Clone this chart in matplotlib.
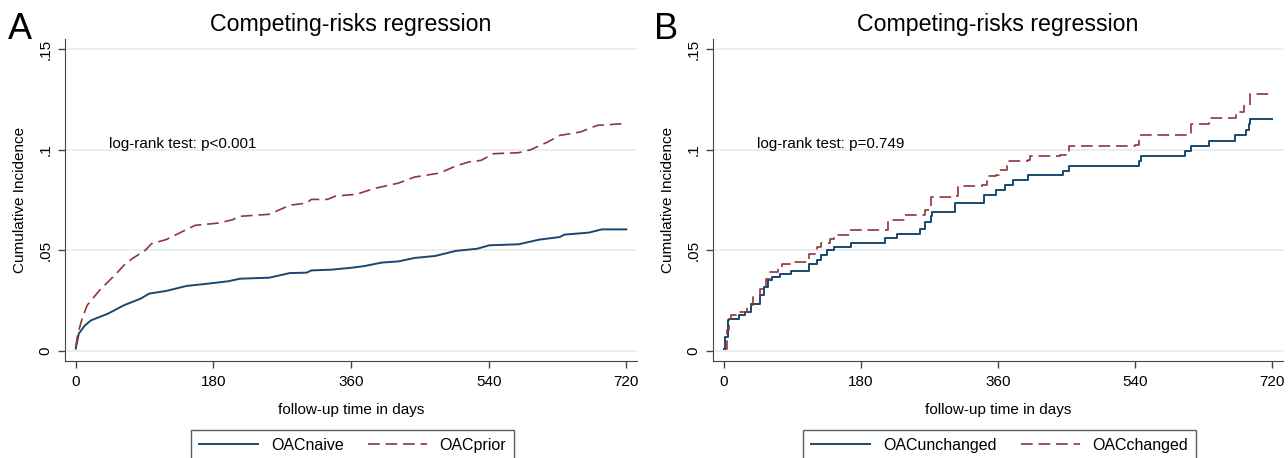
import numpy as np
import matplotlib
matplotlib.use("Agg")
import matplotlib.pyplot as plt

plt.rcParams['font.family'] = ['Liberation Sans', 'DejaVu Sans']

# Panel A: OACnaive vs OACprior (days, cumulative incidence)
a_naive_t = [0, 4, 12, 20, 42, 63, 85, 96, 118, 145, 172, 199, 215, 253, 280, 302, 308, 335,
             362, 378, 400, 422, 443, 470, 497, 525, 541, 579, 606, 633, 639, 671, 688, 720]
a_naive_y = [0.0012, 0.0086, 0.0127, 0.0152, 0.0185, 0.0227, 0.026, 0.0285, 0.0298, 0.0323,
             0.0334, 0.0346, 0.0359, 0.0364, 0.0387, 0.0389, 0.04, 0.0404, 0.0414, 0.0422,
             0.0439, 0.0445, 0.0462, 0.0472, 0.0497, 0.0508, 0.0525, 0.053, 0.0553, 0.0566,
             0.0578, 0.0588, 0.0604, 0.0604]
a_prior_t = [0, 2.7, 9, 15, 31, 53, 63, 74, 91, 99, 118, 134, 156, 188, 205, 215, 253, 280,
             302, 308, 329, 340, 367, 389, 422, 443, 476, 497, 514, 530, 546, 579, 595, 617,
             633, 660, 682, 720]
a_prior_y = [0.002, 0.0086, 0.0169, 0.0227, 0.0301, 0.0384, 0.0426, 0.0459, 0.05, 0.0533,
             0.0553, 0.0583, 0.0624, 0.0636, 0.0652, 0.0669, 0.0679, 0.0724, 0.0735, 0.0753,
             0.0753, 0.077, 0.0778, 0.0806, 0.0834, 0.0864, 0.0884, 0.0919, 0.0939, 0.0947,
             0.098, 0.0985, 0.1, 0.1038, 0.1071, 0.1088, 0.1121, 0.113]

# Panel B: OACunchanged vs OACchanged
b_unch_t = [0, 2, 5, 6.5, 17, 20, 28, 36, 47, 52.5, 58, 63, 74, 88, 112, 123, 128, 136, 145,
            167, 212, 228, 258, 264, 272, 274, 304, 342, 358, 369, 380, 399, 445, 453, 545,
            548, 605, 613, 637, 671, 686, 689, 691, 720]
b_unch_y = [0.0012, 0.007, 0.0152, 0.016, 0.016, 0.0177, 0.0194, 0.0235, 0.0277, 0.0318,
            0.0351, 0.0368, 0.0384, 0.0397, 0.0434, 0.0454, 0.0475, 0.05, 0.0517, 0.0538,
            0.0563, 0.0583, 0.0608, 0.0641, 0.0669, 0.069, 0.0735, 0.0773, 0.0801, 0.0826,
            0.0848, 0.0873, 0.0894, 0.0919, 0.0942, 0.0967, 0.0992, 0.1018, 0.1041, 0.1071,
            0.1096, 0.1126, 0.1151, 0.1151]
b_chg_t = [0, 4, 6.5, 10, 20, 31, 39, 47, 55, 61, 71, 77, 88, 112, 123, 128, 139, 145, 166,
           215, 237, 258, 264, 272, 304, 307, 339, 345, 358, 361, 372, 399, 402, 442, 453,
           540, 545, 599, 613, 637, 672, 683, 691, 720]
b_chg_y = [0.0012, 0.0103, 0.016, 0.0177, 0.0194, 0.0227, 0.0268, 0.031, 0.0359, 0.0392,
           0.0417, 0.0434, 0.0442, 0.0483, 0.0517, 0.0536, 0.0555, 0.0578, 0.06, 0.0649,
           0.0674, 0.0677, 0.0699, 0.0765, 0.077, 0.0818, 0.0823, 0.0868, 0.0873, 0.0897,
           0.0942, 0.0947, 0.0969, 0.0972, 0.1018, 0.1022, 0.1071, 0.1075, 0.113, 0.1157,
           0.1187, 0.1215, 0.1275, 0.1278]

xticks = [0, 180, 360, 540, 720]
yticks = [0, 0.05, 0.1, 0.15]
ytick_labels = ["0", ".05", ".1", ".15"]

navy = "#1a476f"
maroon = "#90353b"
grid_col = "#e6eef1"

fig = plt.figure(figsize=(12.88, 4.58), dpi=100)
ax1 = fig.add_axes([0.0505, 0.2118, 0.4441, 0.703])
ax2 = fig.add_axes([0.5536, 0.2118, 0.4425, 0.703])

# panel A has many events -> almost smooth, panel B visible steps
panels = [
    (ax1, a_naive_t, a_naive_y, a_prior_t, a_prior_y, "OACnaive", "OACprior",
     "log-rank test: p<0.001", "default"),
    (ax2, b_unch_t, b_unch_y, b_chg_t, b_chg_y, "OACunchanged", "OACchanged",
     "log-rank test: p=0.749", "steps-post"),
]

for ax, t1, y1, t2, y2, lab1, lab2, note, ds in panels:
    for g in yticks:
        ax.axhline(g, color=grid_col, lw=1.3, zorder=0)
    ax.plot(t1, y1, drawstyle=ds, color=navy, lw=1.4, label=lab1)
    ax.plot(t2, y2, drawstyle=ds, color=maroon, lw=1.2,
            dashes=(7, 3.5), label=lab2)
    ax.set_xlim(-14, 734)
    ax.set_ylim(-0.005, 0.155)
    ax.set_xticks(xticks)
    ax.set_yticks(yticks)
    ax.set_yticklabels(ytick_labels, rotation=90, va="center")
    ax.tick_params(axis="both", labelsize=11, length=5, color="#444444", width=1)
    ax.tick_params(axis="x", pad=5)
    ax.tick_params(axis="y", pad=4)
    for s in ["top", "right"]:
        ax.spines[s].set_visible(False)
    for s in ["left", "bottom"]:
        ax.spines[s].set_color("#444444")
    ax.set_xlabel("follow-up time in days", fontsize=11, labelpad=10)
    ax.set_ylabel("Cumulative Incidence", fontsize=11, labelpad=8)
    ax.set_title("Competing-risks regression", fontsize=16.7, pad=6)
    ax.text(44, 0.1026, note, fontsize=11, va="center", ha="left")
    leg = ax.legend(loc="upper center", bbox_to_anchor=(0.503, -0.214), ncol=2,
                    fontsize=11.5, frameon=True, fancybox=False, handlelength=3.7,
                    columnspacing=1.5, borderpad=0.5, borderaxespad=0,
                    handletextpad=0.8)
    leg.get_frame().set_edgecolor("#333333")
    leg.get_frame().set_linewidth(1.0)

fig.text(0.006, 0.935, "A", fontsize=26, ha="left", va="center")
fig.text(0.508, 0.935, "B", fontsize=26, ha="left", va="center")

fig.savefig("out.png", dpi=100, facecolor="white")
